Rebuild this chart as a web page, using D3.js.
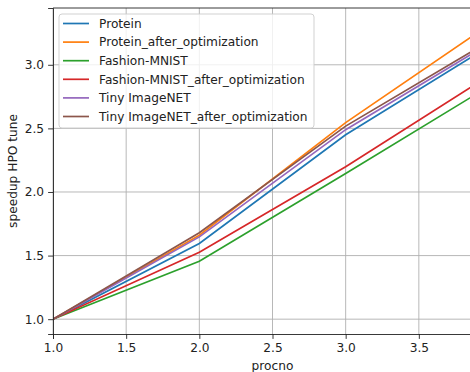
<!DOCTYPE html>
<html lang="en">
<head>
    <meta charset="UTF-8">
    <title>speedup HPO tune</title>
    <style>
        body {
            margin: 0;
            background-color: #fff;
        }
        text {
            font-family: "DejaVu Sans", sans-serif;
            fill: #222;
        }
    </style>
</head>
<body>
    <div id="chart"></div>
    <script src="https://d3js.org/d3.v7.min.js"></script>
    <script>
        // Data
        const procno = [1, 2, 3, 4];
        const protein = [1, 1.595, 2.45, 3.16];
        const proteinOpt = [1, 1.66, 2.545, 3.33];
        const fashion = [1, 1.455, 2.146, 2.845];
        const fashionOpt = [1, 1.526, 2.198, 2.93];
        const tiny = [1, 1.647, 2.49, 3.18];
        const tinyOpt = [1, 1.68, 2.518, 3.20];

        const seriesNames = ["Protein", "Protein_after_optimization", "Fashion-MNIST",
            "Fashion-MNIST_after_optimization", "Tiny ImageNET", "Tiny ImageNET_after_optimization"];
        const seriesValues = [protein, proteinOpt, fashion, fashionOpt, tiny, tinyOpt];
        const colors = ["#1f77b4", "#ff7f0e", "#2ca02c", "#d62728", "#9467bd", "#8c564b"];

        // the 4.0 tick falls outside the cropped picture
        const xTicks = [1.0, 1.5, 2.0, 2.5, 3.0, 3.5];
        const yTicks = [1.0, 1.5, 2.0, 2.5, 3.0];

        const width = 470, height = 372;
        const mLeft = 53, mRight = 492, mTop = 8, mBottom = 334;
        const fontSize = "12.2px";

        const svg = d3.select("#chart").append("svg")
            .attr("width", width)
            .attr("height", height);

        svg.append("rect").attr("width", width).attr("height", height).attr("fill", "#fff");

        const x = d3.scaleLinear().domain([1, 4]).range([mLeft, mRight]);

        // matplotlib style 5% margins on y
        const allVals = seriesValues.flat();
        const lo = d3.min(allVals), hi = d3.max(allVals);
        const pad = (hi - lo) * 0.05;
        const y = d3.scaleLinear().domain([lo - pad, hi + pad]).range([mBottom, mTop]);

        svg.append("clipPath").attr("id", "clip")
            .append("rect")
            .attr("x", mLeft).attr("y", mTop)
            .attr("width", mRight - mLeft).attr("height", mBottom - mTop);

        // grid
        const grid = svg.append("g").attr("stroke", "#b0b0b0").attr("stroke-width", 0.9);
        grid.selectAll(".gx").data(xTicks).enter().append("line")
            .attr("x1", d => x(d)).attr("x2", d => x(d))
            .attr("y1", mTop).attr("y2", mBottom);
        grid.selectAll(".gy").data(yTicks).enter().append("line")
            .attr("x1", mLeft).attr("x2", mRight)
            .attr("y1", d => y(d)).attr("y2", d => y(d));

        // lines
        const line = d3.line()
            .x((d, i) => x(procno[i]))
            .y(d => y(d));

        svg.append("g").attr("clip-path", "url(#clip)")
            .selectAll("path")
            .data(seriesValues)
            .enter().append("path")
            .attr("d", line)
            .attr("fill", "none")
            .attr("stroke", (d, i) => colors[i])
            .attr("stroke-width", 1.7)
            .attr("stroke-linecap", "square");

        // axes
        const xAxis = d3.axisBottom(x).tickValues(xTicks).tickFormat(d3.format(".1f"))
            .tickSize(4.9).tickPadding(4);
        const gx = svg.append("g").attr("transform", `translate(0,${mBottom})`).call(xAxis);

        const yAxis = d3.axisLeft(y).tickValues(yTicks).tickFormat(d3.format(".1f"))
            .tickSize(4.9).tickPadding(4);
        const gy = svg.append("g").attr("transform", `translate(${mLeft},0)`).call(yAxis);

        [gx, gy].forEach(g => {
            g.select(".domain").attr("stroke", "#222").attr("stroke-width", 0.9);
            g.selectAll(".tick line").attr("stroke", "#222").attr("stroke-width", 0.9);
            g.selectAll(".tick text")
                .attr("font-family", "DejaVu Sans")
                .attr("font-size", fontSize)
                .attr("fill", "#222");
        });

        // top spine
        svg.append("line")
            .attr("x1", mLeft).attr("x2", mRight)
            .attr("y1", mTop).attr("y2", mTop)
            .attr("stroke", "#222").attr("stroke-width", 0.9);

        // axis labels
        svg.append("text")
            .attr("x", (mLeft + mRight) / 2).attr("y", 370)
            .attr("text-anchor", "middle")
            .attr("font-size", fontSize)
            .text("procno");

        svg.append("text")
            .attr("transform", `translate(17,${(mTop + mBottom) / 2}) rotate(-90)`)
            .attr("text-anchor", "middle")
            .attr("font-size", fontSize)
            .text("speedup HPO tune");

        // legend
        const legend = svg.append("g").attr("transform", "translate(59,14)");
        legend.append("rect")
            .attr("width", 255).attr("height", 114).attr("rx", 3)
            .attr("fill", "#fff").attr("fill-opacity", 0.8)
            .attr("stroke", "#cccccc").attr("stroke-width", 0.9);

        const items = legend.selectAll(".item").data(seriesNames).enter().append("g")
            .attr("transform", (d, i) => `translate(0,${9.5 + i * 18.6})`);
        items.append("line")
            .attr("x1", 4).attr("x2", 30)
            .attr("stroke", (d, i) => colors[i])
            .attr("stroke-width", 1.7);
        items.append("text")
            .attr("x", 40).attr("y", 4.3)
            .attr("font-size", fontSize)
            .text(d => d);
    </script>
</body>
</html>
